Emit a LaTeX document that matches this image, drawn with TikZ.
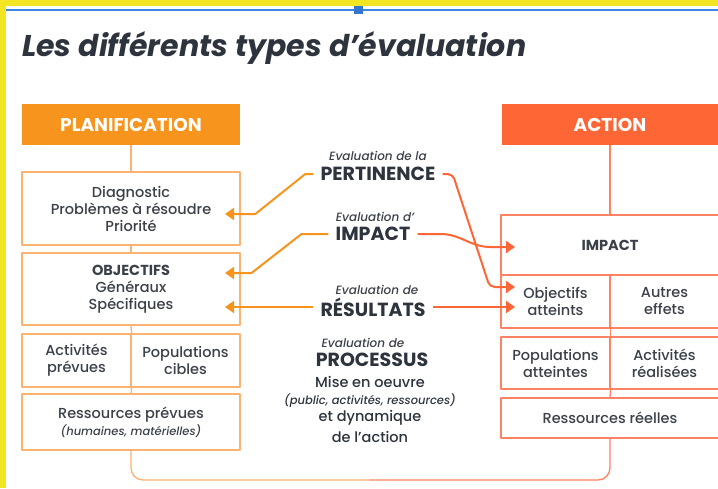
\documentclass[tikz,border=0pt]{standalone}
\usepackage{fontspec}
\setmainfont{Poppins}[UprightFont=* Medium, ItalicFont=* Medium Italic, BoldFont=* Bold, BoldItalicFont=* Bold Italic]
\usetikzlibrary{arrows.meta}
\definecolor{planorange}{HTML}{F7941D}
\definecolor{planline}{HTML}{FBB372}
\definecolor{actred}{HTML}{FF6636}
\definecolor{actline}{HTML}{FF8262}
\definecolor{txtgray}{HTML}{3C4149}
\definecolor{txtdark}{HTML}{2E343D}
\definecolor{frameyellow}{HTML}{F2E523}
\definecolor{selblue}{HTML}{3B84E6}
\tikzset{
  planbox/.style={draw=planline, line width=1.3pt, inner sep=0pt, align=center, text=txtgray, font=\fontsize{14.5}{17}\selectfont},
  actbox/.style={planbox, draw=actline},
  header/.style={inner sep=0pt, text=white, font=\fontsize{18.5}{20}\selectfont\bfseries, minimum height=41pt},
  evsmall/.style={inner sep=0pt, text=txtgray, font=\fontsize{12}{14}\selectfont\itshape},
  evbig/.style={inner xsep=7pt, inner ysep=0pt, text=txtdark, font=\fontsize{19}{22}\selectfont\bfseries},
  midtext/.style={inner sep=0pt, text=txtdark, font=\fontsize{14.5}{16.5}\selectfont},
  planarrow/.style={draw=planorange, line width=2pt, -{Triangle[length=9pt,width=12pt]}},
  actarrow/.style={draw=actred, line width=2pt, -{Triangle[length=9pt,width=12pt]}},
}
\begin{document}
\begin{tikzpicture}[x=1pt, y=-1pt, line join=round]
\useasboundingbox (0,0) rectangle (718,488);
\fill[white] (0,0) rectangle (718,488);
% cadre
\fill[frameyellow] (0,0) rectangle (718,6);
\fill[frameyellow] (0,0) rectangle (6,488);
\draw[selblue, line width=2pt] (6,10) -- (718,10);
\fill[selblue!90!black] (354,6) rectangle (363,14);

% titre
\node[anchor=base west, inner sep=0pt, text=txtdark, font=\fontsize{30}{34}\selectfont\bfseries\itshape] (titre) at (22,56) {Les différents types d’évaluation};

% planification
\node[header, fill=planorange, minimum width=218pt] (planhead) at (131,124.5) {PLANIFICATION};
\node[planbox, minimum width=218pt, minimum height=73pt] (diag) at (131,208.5) {Diagnostic\\Problèmes à résoudre\\Priorité};
\node[planbox, minimum width=218pt, minimum height=72pt] (obj) at (131,289) {\textbf{OBJECTIFS}\\Généraux\\Spécifiques};
\node[planbox, minimum width=109pt, minimum height=53pt] (actp) at (76.5,360.5) {Activités\\prévues};
\node[planbox, minimum width=109pt, minimum height=53pt] (popc) at (185.5,360.5) {Populations\\cibles};
\node[planbox, minimum width=218pt, minimum height=56pt] (resp) at (131,422) {Ressources prévues\\{\fontsize{11.5}{14}\selectfont\itshape(humaines, matérielles)}};
\draw[planline, line width=1.3pt] (planhead.south) -- (diag.north);
\draw[planline, line width=1.3pt] (diag.south) -- (obj.north);
\draw[planline, line width=1.3pt] (obj.south) -- (actp.north east);
\draw[planline, line width=1.3pt] (actp.south east) -- (resp.north);

% action
\node[header, fill=actred, minimum width=216pt] (acthead) at (610,124.5) {ACTION};
\node[actbox, minimum width=218pt, minimum height=60pt] (impb) at (610,245) {\textbf{IMPACT}};
\node[actbox, minimum width=109pt, minimum height=53pt] (objat) at (555.5,301.5) {Objectifs\\atteints};
\node[actbox, minimum width=109pt, minimum height=53pt] (autr) at (664.5,301.5) {Autres\\effets};
\node[actbox, minimum width=109pt, minimum height=52pt] (popa) at (555.5,363) {Populations\\atteintes};
\node[actbox, minimum width=109pt, minimum height=52pt] (actr) at (664.5,363) {Activités\\réalisées};
\node[actbox, minimum width=218pt, minimum height=40pt] (resr) at (610,418) {Ressources réelles};
\draw[actline, line width=1.3pt] (acthead.south) -- (impb.north);
\draw[actline, line width=1.3pt] (objat.south east) -- (popa.north east);
\draw[actline, line width=1.3pt] (popa.south east) -- (resr.north);

% boucle du bas
\coordinate (bas) at (370,480);
\draw[planline, line width=1.3pt, rounded corners=12pt] (resp.south) |- (bas);
\draw[actline, line width=1.3pt, rounded corners=12pt] (bas) -| (resr.south);

% evaluations
\node[evsmall] (pertev) at (378,156) {Evaluation de la};
\node[evbig] (pert) at (378,174) {PERTINENCE};
\node[evsmall] (impev) at (375,217) {Evaluation d'};
\node[evbig] (imp) at (373,234) {IMPACT};
\node[evsmall] (resev) at (377,290) {Evaluation de};
\node[evbig] (res) at (373,307) {RÉSULTATS};
\node[evsmall] (procev) at (363,343) {Evaluation de};
\node[evbig] (proc) at (372,360) {PROCESSUS};
\node[midtext] (mise) at (370,382) {Mise en oeuvre};
\node[midtext, font=\fontsize{11.5}{14}\selectfont\itshape] (publ) at (370,401) {(public, activités, ressources)};
\node[midtext] (dyn) at (370,418) {et dynamique};
\node[midtext] (delac) at (370,437) {de l'action};

\coordinate (pointdiag) at (225,214);
\coordinate (pointobj) at (225,273);
\coordinate (pointres) at (225,307);
\coordinate (pointimp) at (515,247);
\coordinate (pointobja) at (515,287);
\coordinate (pointobjb) at (515,307);

\draw[planarrow] (pert.west) -- ++(-8,0) -- ++(-50,40) -- (pointdiag);
\draw[planarrow] (imp.west) -- ++(-27,0) -- ++(-50,39) -- (pointobj);
\draw[planarrow] (res.west) -- (pointres);
\draw[actarrow, rounded corners=5pt] (pert.east) -- ++(10,0) -- ++(37,113) -- (pointobja);
\draw[actarrow] (imp.east) -- ++(23,0) to[out=0,in=180] ++(50,13) -- (pointimp);
\draw[actarrow] (res.east) -- (pointobjb);
\end{tikzpicture}
\end{document}
